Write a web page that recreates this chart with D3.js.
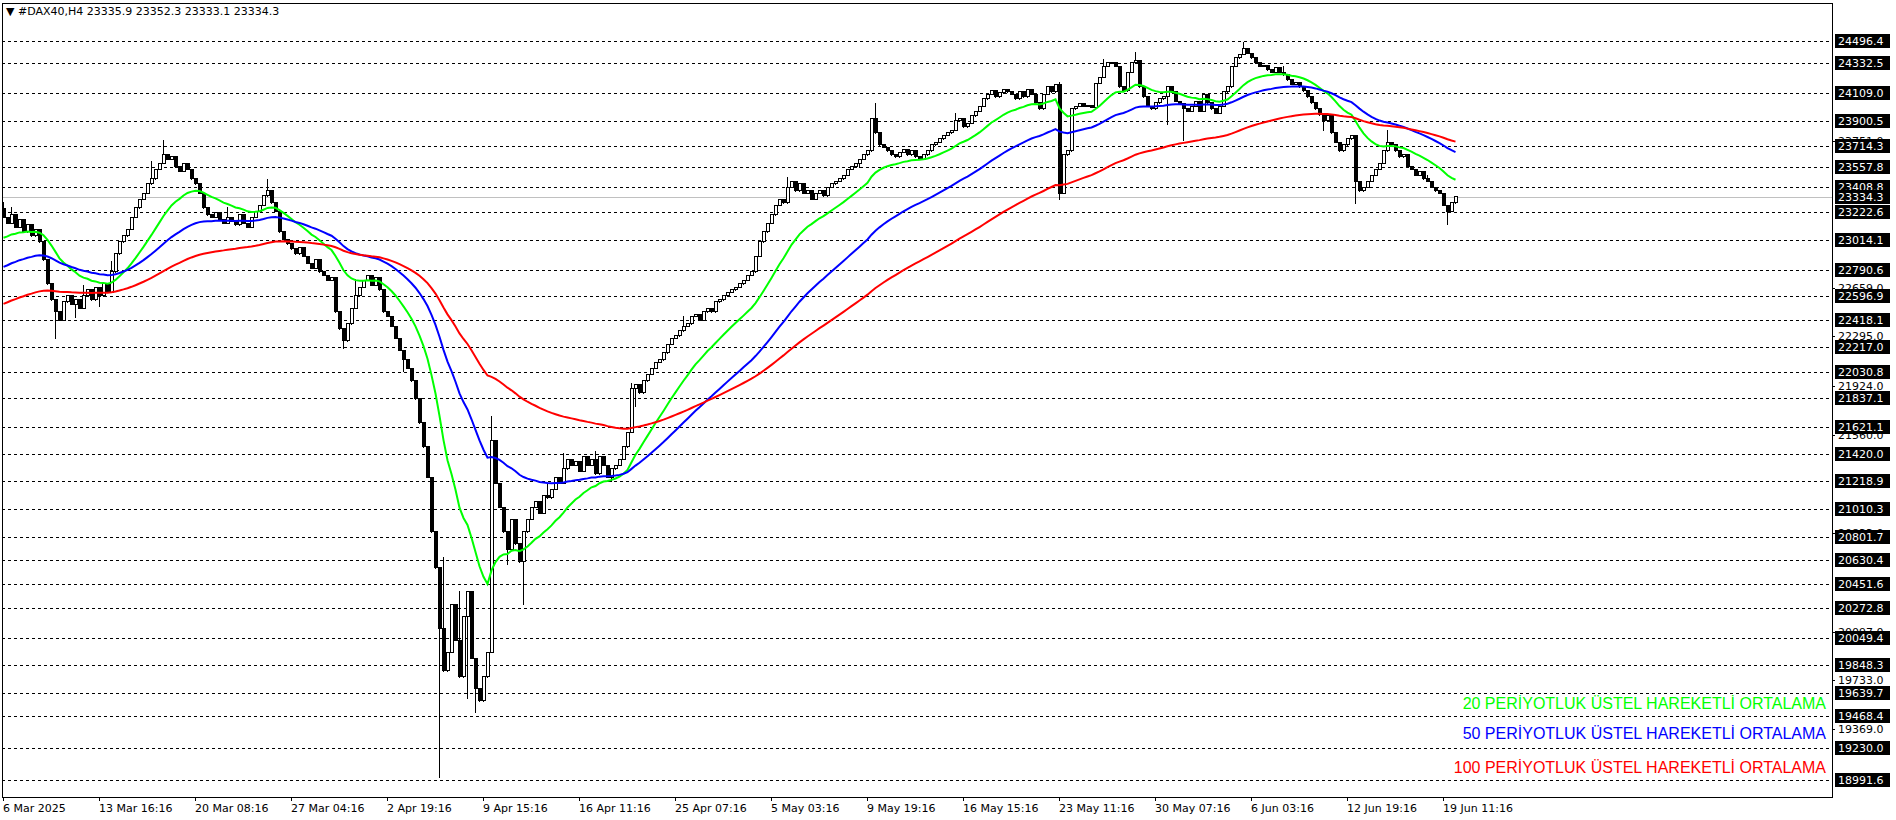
<!DOCTYPE html>
<html><head><meta charset="utf-8">
<script src="https://cdn.jsdelivr.net/npm/d3@7"></script>
<style>body{margin:0;background:#fff;}svg{display:block;font-family:Tahoma,"DejaVu Sans",sans-serif;}</style>
</head><body><svg id="c" width="1896" height="820"></svg>
<script>
const closes = [
23182,23137,23200,23110,23164,23074,23128,23047,23092,23002,
22867,22687,22570,22480,22417,22552,
22597,22534,22570,22507,22597,22642,
22570,22660,22597,22687,22624,22777,22912,
23002,23047,23092,23182,23254,23317,23362,
23434,23470,23542,23587,23650,23614,
23632,23560,23524,23587,23542,23470,23434,
23362,23254,23200,23182,23218,23164,23137,23182,
23155,23128,23200,23137,23110,23182,23227,23272,
23344,23380,23290,23227,
23074,23020,22984,22948,22912,22957,22894,
22840,22804,22867,22777,22750,22714,22732,
22480,22354,22264,22390,
22507,22597,22660,22714,22750,22678,22732,22642,
22480,22444,22372,
22282,22192,22120,22057,21967,
21832,21652,21472,21247,
20842,
20572,20122,19807,
19942,20302,20032,19762,20212,20392,
19897,19672,19582,19762,19942,
21517,
21202,21022,
20842,20707,20932,20752,20617,20842,20932,
21022,21067,20977,21112,21094,
21157,21247,21202,21310,21382,21337,
21364,21292,21400,21337,21382,21274,21400,21337,21247,
21310,21337,21382,21472,21580,
21904,21940,21877,21967,
22012,22057,22102,22120,22174,
22237,22282,22300,22336,
22372,22390,22444,22462,22417,22480,22507,22480,22552,22570,22597,22624,
22642,22660,22687,22714,22750,22777,
22894,23002,23074,23137,
23200,23272,23317,23290,
23407,23452,23380,23434,23362,23380,
23317,23362,23380,23344,23407,23434,23452,
23470,23497,23542,23560,23587,23614,23650,
23677,23920,23812,23722,
23704,23677,23650,23632,23668,23686,23650,23677,23632,23614,23650,
23677,23722,23740,23767,23794,23812,23830,
23902,23920,23857,23884,23938,23974,24010,24064,
24100,24127,24082,24109,24136,24118,
24100,24064,24118,24082,24136,24100,
24037,23992,24100,24154,24118,24172,
23362,
23650,23677,
23992,24010,24028,24010,24019,24001,
24181,24226,24307,24334,
24334,24307,24154,
24127,
24262,24334,24352,
24154,24082,24010,23992,
24037,24064,24082,24154,24118,
24046,24028,23992,23974,24010,24046,
23974,24100,24037,23992,
23956,24010,24118,24154,24307,
24370,24397,24442,24406,24370,
24334,24307,24316,24280,24262,24298,24262,24244,
24208,24172,24190,24154,24127,
24082,24037,23992,23947,23902,23938,
23812,23740,23677,23722,23767,23794,
23452,23380,23407,23452,
23497,23542,23587,
23677,23740,23722,
23677,23632,23650,
23560,23542,23497,23524,23470,
23452,23407,23380,23362,
23272,23227,23290,23334.3
];
const firstOpen = 23250;
const wickHighs = [[0,23300],[2,23260],[20,22680],[27,22860],[40,23760],[37,23600],[56,23260],[66,23470],[88,22720],[104,21700],[110,20650],[114,20400],[122,21700],[136,21200],[140,21430],[148,21440],[157,21950],[170,22450],[196,23480],[218,24037],[238,23960],[264,24190],[275,24360],[283,24415],[310,24487],[320,24310],[346,23830],[356,23500]];
const wickLows = [[13,22282],[18,22440],[24,22520],[85,22208],[100,22040],[109,19011],[111,19800],[116,19600],[118,19500],[126,20600],[130,20299],[152,21220],[158,21780],[214,23560],[264,23316],[291,23880],[295,23760],[330,23830],[338,23289],[361,23136]];
const emaSeeds = {20:23014, 50:22798, 100:22525};
const levels = [24496.4,24332.5,24109.0,23900.5,23714.3,23557.8,23408.8,23222.6,23014.1,22790.6,22596.9,22418.1,22217.0,22030.8,21837.1,21621.1,21420.0,21218.9,21010.3,20801.7,20630.4,20451.6,20272.8,20049.4,19848.3,19639.7,19468.4,19230.0,18991.6];
const gridTicks = [23751.0,22659.0,22295.0,21924.0,21560.0,20833.0,20097.0,19733.0,19369.0];
const currentPrice = 23334.3;
const dateLabels = ["6 Mar 2025","13 Mar 16:16","20 Mar 08:16","27 Mar 04:16","2 Apr 19:16","9 Apr 15:16","16 Apr 11:16","25 Apr 07:16","5 May 03:16","9 May 19:16","16 May 15:16","23 May 11:16","30 May 07:16","6 Jun 03:16","12 Jun 19:16","19 Jun 11:16"];
const legend = [["20 PERİYOTLUK ÜSTEL HAREKETLİ ORTALAMA","#00ff00"],["50 PERİYOTLUK ÜSTEL HAREKETLİ ORTALAMA","#0000ff"],["100 PERİYOTLUK ÜSTEL HAREKETLİ ORTALAMA","#ff0000"]];

const svg = d3.select("#c");
const L=2,R=1832,T=3,B=797;
const y = d3.scaleLinear().domain([18865,24779]).range([B,T]);
const x = d3.scaleLinear().domain([0,100]).range([3.5,403.5]);

const hi = new Map(wickHighs), lo = new Map(wickLows);
const data = closes.map((c,i)=>{
  const o = i===0?firstOpen:closes[i-1];
  return {i,o,c,h:Math.max(o,c,hi.get(i)||-1e9),l:Math.min(o,c,lo.get(i)||1e9)};
});

const g = svg.append("g");
g.selectAll("line.lv").data(levels).join("line")
 .attr("x1",L).attr("x2",R).attr("y1",d=>Math.round(y(d))+0.5).attr("y2",d=>Math.round(y(d))+0.5)
 .attr("stroke","#000").attr("stroke-dasharray","3,3").attr("stroke-width",1);
g.append("line").attr("x1",L).attr("x2",R).attr("y1",Math.round(y(currentPrice))+0.5).attr("y2",Math.round(y(currentPrice))+0.5)
 .attr("stroke","#c0c0c0");

const cg = svg.append("g").attr("shape-rendering","crispEdges");
cg.selectAll("line").data(data).join("line")
 .attr("x1",d=>x(d.i)).attr("x2",d=>x(d.i)).attr("y1",d=>y(d.h)).attr("y2",d=>y(d.l)+1).attr("stroke","#000");
cg.selectAll("rect").data(data).join("rect")
 .attr("x",d=>x(d.i)-1.5).attr("width",3)
 .attr("y",d=>y(Math.max(d.o,d.c))).attr("height",d=>Math.max(1,y(Math.min(d.o,d.c))-y(Math.max(d.o,d.c))))
 .attr("fill",d=>d.c>=d.o?"#fff":"#000").attr("stroke","#000");

function ema(p){const k=2/(p+1);let e=emaSeeds[p];return closes.map(c=>(e=c*k+e*(1-k)));}
[[20,"#00ff00"],[50,"#0000ff"],[100,"#ff0000"]].forEach(([p,col])=>{
  const v=ema(p);
  svg.append("path").datum(v).attr("fill","none").attr("stroke",col).attr("stroke-width",2)
   .attr("d",d3.line().x((d,i)=>x(i)).y(d=>y(d)));
});

svg.append("rect").attr("x",L+0.5).attr("y",T+0.5).attr("width",R-L).attr("height",B-T).attr("fill","none").attr("stroke","#000").attr("shape-rendering","crispEdges");

const ax = svg.append("g");
ax.selectAll("text.gt").data(gridTicks).join("text").attr("x",1838).attr("y",d=>y(d)+4)
 .attr("font-size",11).text(d=>d.toFixed(1));
ax.selectAll("line.tk").data(gridTicks).join("line").attr("x1",R).attr("x2",R+3).attr("y1",d=>Math.round(y(d))+0.5).attr("y2",d=>Math.round(y(d))+0.5).attr("stroke","#000");
const lab = ax.selectAll("g.lb").data(levels.concat([currentPrice])).join("g").attr("transform",d=>`translate(0,${Math.round(y(d))})`);
lab.append("rect").attr("x",1835).attr("y",-7).attr("width",55).attr("height",14).attr("fill","#000");
lab.append("text").attr("x",1838).attr("y",4).attr("fill","#fff").attr("font-size",11).text(d=>d.toFixed(1));

const bx = svg.append("g");
bx.selectAll("text").data(dateLabels).join("text").attr("x",(d,k)=>x(24*k)-0.5).attr("y",812).attr("font-size",11).text(d=>d);
bx.selectAll("line").data(dateLabels).join("line").attr("x1",(d,k)=>x(24*k)).attr("x2",(d,k)=>x(24*k)).attr("y1",B).attr("y2",B+4).attr("stroke","#000");

svg.append("text").attr("x",6).attr("y",15).attr("font-size",11).text("▼ #DAX40,H4  23335.9 23352.3 23333.1 23334.3");

svg.selectAll("text.lg").data(legend).join("text").attr("class","lg").attr("x",1826).attr("y",(d,k)=>[709,739,773][k])
 .attr("text-anchor","end").attr("font-family","'Liberation Sans',Arial,sans-serif").attr("font-size",16).attr("fill",d=>d[1]).text(d=>d[0]);
</script></body></html>
